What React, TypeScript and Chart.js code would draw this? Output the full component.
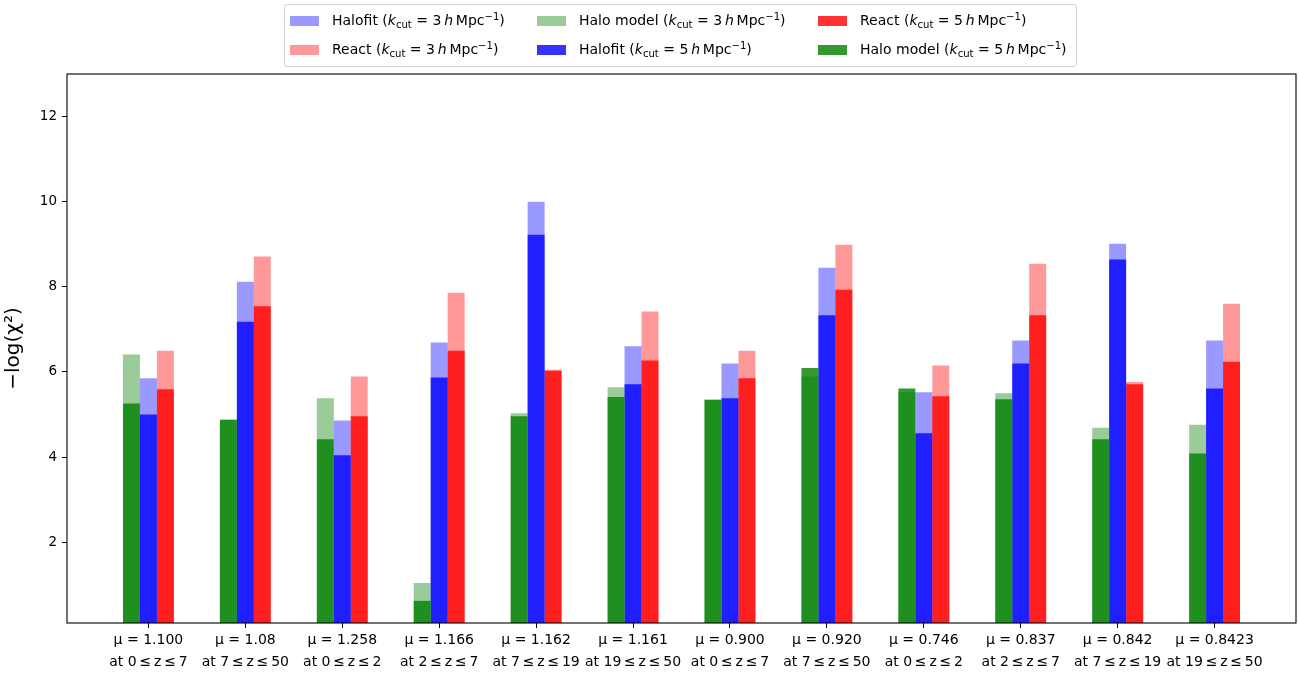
import { Chart } from "chart.js/auto";
import { useEffect, useRef } from "react";

// group labels under each set of bars
const muValues = ["1.100", "1.08", "1.258", "1.166", "1.162", "1.161", "0.900", "0.920", "0.746", "0.837", "0.842", "0.8423"];
const zRanges = [
  ["0", "7"], ["7", "50"], ["0", "2"], ["2", "7"], ["7", "19"], ["19", "50"],
  ["0", "7"], ["7", "50"], ["0", "2"], ["2", "7"], ["7", "19"], ["19", "50"],
];

// -log(chi^2) per group
const halofitK3 = [5.85, 8.12, 4.86, 6.69, 10.0, 6.6, 6.2, 8.45, 5.52, 6.74, 9.01, 6.74];
const halofitK5 = [5.0, 7.18, 4.04, 5.87, 9.22, 5.71, 5.38, 7.33, 4.56, 6.2, 8.64, 5.61];
const haloModelK3 = [6.41, 4.89, 5.38, 1.04, 5.03, 5.64, 5.36, 5.89, 5.52, 5.5, 4.69, 4.76];
const haloModelK5 = [5.26, 4.87, 4.42, 0.62, 4.96, 5.41, 5.34, 6.09, 5.61, 5.36, 4.42, 4.08];
const reactK3 = [6.5, 8.71, 5.89, 7.86, 6.05, 7.42, 6.5, 8.99, 6.15, 8.54, 5.76, 7.6];
const reactK5 = [5.59, 7.54, 4.96, 6.5, 6.03, 6.27, 5.85, 7.93, 5.43, 7.33, 5.71, 6.24];

const yTicks = [2, 4, 6, 8, 10, 12];

type Series = { model: string; kcut: number; values: number[]; rgb: string; stack: string };

// dark (k=5) first so the stacks go green, blue, red and they draw on top
const series: Series[] = [
  { model: "Halo model", kcut: 5, values: haloModelK5, rgb: "0,128,0", stack: "halo" },
  { model: "Halofit", kcut: 5, values: halofitK5, rgb: "0,0,255", stack: "halofit" },
  { model: "React", kcut: 5, values: reactK5, rgb: "255,0,0", stack: "react" },
  { model: "Halo model", kcut: 3, values: haloModelK3, rgb: "0,128,0", stack: "halo" },
  { model: "Halofit", kcut: 3, values: halofitK3, rgb: "0,0,255", stack: "halofit" },
  { model: "React", kcut: 3, values: reactK3, rgb: "255,0,0", stack: "react" },
];

const colorOf = (s: Series) => `rgba(${s.rgb},${s.kcut === 5 ? 0.8 : 0.4})`;

// legend order as in the figure, filled column by column
const legendOrder = [
  ["Halofit", 3], ["React", 3], ["Halo model", 3],
  ["Halofit", 5], ["React", 5], ["Halo model", 5],
] as const;

const FONT = "'DejaVu Sans', sans-serif";
const THIN = "\u2009";

const frame = {
  id: "frame",
  afterDraw(chart: Chart) {
    const { ctx, chartArea: a } = chart;
    ctx.save();
    ctx.strokeStyle = "#000";
    ctx.lineWidth = 1.1;
    ctx.strokeRect(a.left, a.top, a.right - a.left, a.bottom - a.top);
    ctx.restore();
  },
};

const Legend = () => {
  const colX = [6, 253, 534];
  const rowY = [12, 41];
  return (
    <div
      style={{
        position: "absolute",
        left: 284,
        top: 4,
        width: 793,
        height: 63,
        boxSizing: "border-box",
        border: "1px solid #d0d0d0",
        borderRadius: 3,
        background: "rgba(255,255,255,0.8)",
        fontFamily: FONT,
        fontSize: 14,
        color: "#000",
      }}
    >
      {legendOrder.map(([model, k], i) => {
        const s = series.find((d) => d.model === model && d.kcut === k)!;
        const col = Math.floor(i / 2);
        const row = i % 2;
        return (
          <div
            key={i}
            style={{
              position: "absolute",
              left: colX[col] - 1,
              top: rowY[row] - 1,
              display: "flex",
              alignItems: "center",
              height: 10,
              whiteSpace: "nowrap",
            }}
          >
            <span style={{ width: 29, height: 10, background: colorOf(s), display: "inline-block" }} />
            <span style={{ marginLeft: 13, lineHeight: "10px" }}>
              {model} (<i>k</i>
              <span style={{ fontSize: "0.72em", position: "relative", top: "0.3em" }}>cut</span>
              {" = "}
              {k}
              {THIN}
              <i>h</i>
              {THIN}Mpc
              <span style={{ fontSize: "0.72em", position: "relative", top: "-0.45em" }}>−1</span>)
            </span>
          </div>
        );
      })}
    </div>
  );
};

const App = () => {
  const chartInstanceRef = useRef<Chart | null>(null);
  const canvasRef = useRef<HTMLCanvasElement | null>(null);

  useEffect(() => {
    if (chartInstanceRef.current) {
      chartInstanceRef.current.destroy();
    }
    if (!canvasRef.current) return;

    const datasets = series.map((s) => ({
      label: `${s.model} (k_cut = ${s.kcut} h Mpc^-1)`,
      data: s.values.map((v, i) => ({ x: i, y: v })),
      backgroundColor: colorOf(s),
      borderWidth: 0,
      stack: s.stack,
      order: s.kcut === 5 ? 1 : 2,
      categoryPercentage: 0.525,
      barPercentage: 1,
    }));

    chartInstanceRef.current = new Chart(canvasRef.current, {
      type: "bar",
      data: { datasets },
      plugins: [frame],
      options: {
        animation: false,
        responsive: true,
        maintainAspectRatio: false,
        events: [],
        layout: { padding: { top: 74, right: 3, left: 0, bottom: 0 } },
        plugins: { legend: { display: false }, tooltip: { enabled: false } },
        scales: {
          x: {
            type: "linear",
            stacked: true,
            offset: false,
            min: -0.84,
            max: 11.84,
            afterBuildTicks: (axis: any) => {
              axis.ticks = muValues.map((_, i) => ({ value: i }));
            },
            afterFit: (axis: any) => {
              axis.height = 51;
            },
            border: { display: false },
            grid: { display: true, offset: false, drawOnChartArea: false, drawTicks: true, tickLength: 5, tickColor: "#000", tickWidth: 1 },
            ticks: {
              autoSkip: false,
              maxRotation: 0,
              minRotation: 0,
              padding: 2,
              color: "#000",
              font: { family: FONT, size: 14, lineHeight: 1.55 },
              callback: (value: any) => {
                const [z0, z1] = zRanges[value];
                return [`μ = ${muValues[value]}`, `at ${z0}${THIN}≤${THIN}z${THIN}≤${THIN}${z1}`];
              },
            },
          },
          y: {
            stacked: false,
            min: 0.1,
            max: 13,
            afterBuildTicks: (axis: any) => {
              axis.ticks = yTicks.map((v) => ({ value: v }));
            },
            afterFit: (axis: any) => {
              axis.width = 67;
            },
            border: { display: false },
            grid: { display: true, drawOnChartArea: false, drawTicks: true, tickLength: 5, tickColor: "#000", tickWidth: 1 },
            ticks: { padding: 5, color: "#000", font: { family: FONT, size: 13.5 } },
            title: {
              display: true,
              text: "−log(χ²)",
              color: "#000",
              font: { family: FONT, size: 20 },
              padding: { top: 2, bottom: 0 },
            },
          },
        },
      },
    });

    return () => {
      if (chartInstanceRef.current) {
        chartInstanceRef.current.destroy();
        chartInstanceRef.current = null;
      }
    };
  }, []);

  return (
    <div style={{ position: "fixed", left: 0, top: 0, width: 1299, height: 674, background: "#fff" }}>
      <canvas ref={canvasRef} />
      <Legend />
    </div>
  );
};

export default App;
